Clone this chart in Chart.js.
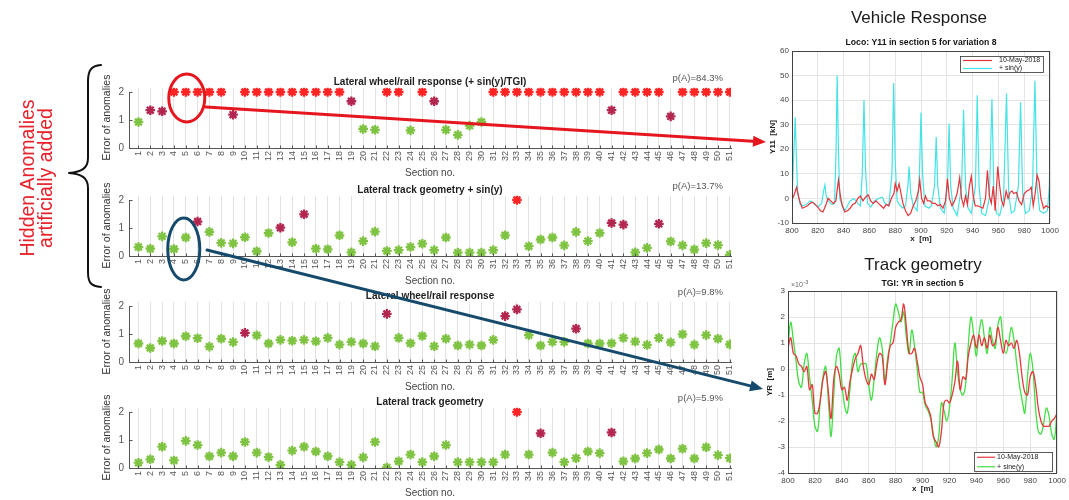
<!DOCTYPE html>
<html lang="en">
<head>
<meta charset="utf-8">
<title>Hidden anomaly detection per section</title>
<script src="https://cdn.jsdelivr.net/npm/chart.js@4.4.1/dist/chart.umd.min.js"></script>
<style>
  html, body { margin:0; padding:0; background:#fff; }
  body { position:relative; width:1069px; height:500px; overflow:hidden; font-family:'Liberation Sans', Arial, sans-serif; }
  canvas { position:absolute; }
  .heading { position:absolute; font-size:17px; line-height:20px; color:#1a1a1a; white-space:nowrap; transform:translateX(-50%); }
  #note { position:absolute; left:-49px; top:160px; width:170px; height:36px; font-size:19.5px; line-height:18px;
          color:#e8202a; text-align:center; white-space:nowrap; transform:rotate(-90deg); }
</style>
</head>
<body>
<canvas id="p1" width="650" height="125" style="left:95px;top:58px"></canvas>
<canvas id="p2" width="650" height="125" style="left:95px;top:166px"></canvas>
<canvas id="p3" width="650" height="125" style="left:95px;top:272px"></canvas>
<canvas id="p4" width="650" height="125" style="left:95px;top:378px"></canvas>
<canvas id="veh" width="309" height="220" style="left:760px;top:30px"></canvas>
<canvas id="trk" width="309" height="230" style="left:760px;top:270px"></canvas>
<canvas id="overlay" width="1069" height="500" style="left:0;top:0"></canvas>
<div class="heading" style="left:919px;top:8px">Vehicle Response</div>
<div class="heading" style="left:923px;top:255px">Track geometry</div>
<div id="note">Hidden Anomalies<br>artificially added</div>

<script>
const FONT = "'Liberation Sans', Arial, sans-serif";

// ---------- anomaly error per track section ----------
const sections = [1,2,3,4,5,6,7,8,9,10,11,12,13,14,15,16,17,18,19,20,21,22,23,24,25,26,
                  27,28,29,30,31,32,33,34,35,36,37,38,39,40,41,42,43,44,45,46,47,48,49,50,51];
const anomalyTicks = [0, 1, 2];

const errWheelRailSinTGI = [0.93,1.35,1.31,2,2,2,2,2,1.19,2, 2,2,2,2,2,2,2,2,1.67,0.68,
  0.65,2,2,0.63,2,1.67,0.65,0.47,0.80,0.93, 2,2,2,2,2,2,2,2,2,2, 1.35,2,2,2,2,1.13,2,2,2,2, 2];
const errTrackSin = [0.32,0.26,0.70,0.25,0.66,1.23,0.86,0.47,0.45,0.67, 0.17,0.82,1.01,0.49,1.49,0.26,0.24,0.74,0.13,0.53,
  0.87,0.18,0.21,0.32,0.44,0.21,0.66,0.12,0.12,0.12, 0.21,0.74,2.0,0.35,0.59,0.66,0.38,0.86,0.53,0.82,
  1.18,1.12,0.13,0.29,1.15,0.52,0.38,0.23,0.46,0.39, 0.04];
const errWheelRail = [0.66,0.50,0.75,0.66,0.92,0.85,0.55,0.83,0.71,1.04, 0.95,0.66,0.79,0.76,0.79,0.74,0.86,0.62,0.72,0.66,
  0.56,1.72,0.86,0.67,0.93,0.56,0.83,0.59,0.62,0.59, 0.79,1.64,1.88,0.96,0.59,0.72,0.72,1.19,0.66,0.66,
  0.67,0.86,0.73,0.61,0.86,0.70,0.99,0.62,0.96,0.83, 0.63];
const errTrack = [0.19,0.31,0.76,0.27,0.97,0.82,0.42,0.55,0.42,0.93, 0.55,0.39,0.11,0.62,0.76,0.59,0.42,0.21,0.11,0.38,
  0.93,0.02,0.24,0.48,0.21,0.42,0.82,0.21,0.21,0.21, 0.21,0.48,2.0,0.48,1.24,0.55,0.21,0.35,0.59,0.53,
  1.27,0.24,0.34,0.53,0.66,0.34,0.69,0.34,0.74,0.46, 0.35];

const panelTitles = ['Lateral wheel/rail response (+ sin(y)/TGI)', 'Lateral track geometry + sin(y)',
                     'Lateral wheel/rail response', 'Lateral track geometry'];
const panelProbabilities = ['p(A)=84.3%', 'p(A)=13.7%', 'p(A)=9.8%', 'p(A)=5.9%'];

// ---------- section 5: lateral force Y11 [kN] ----------
const y11RefX = [800,801,802,803.5,805,806.5,808,810,812,814,816,818,820,822,824,826,828,830,832,834,836,837.5,839,841,843,845,
  847,849,851,853,855,857,859,861,863,865,867,869,871,873,875,877,879,880,881.5,883,884.5,886,888,890,892,894,896,898,899,
  900.5,902,903.5,905,907,909,911,913,915,917,919,920.5,922,924,926,928,930,931.5,933,934.5,936,937.5,939,940.5,942,944,
  946,948,950,951.5,953,954.5,956,957.5,959.5,961,962.5,964,966,967.5,969,970.5,972,974,976,978,980,982,984,985.5,987,
  988.5,990,991.5,993,995,997,1000];
const y11RefY = [1,0.5,2,4.5,1,-2,-4,-3.5,-3,-2,-1.5,-2.5,-3.5,-5,-5.5,-3,0,-1,-2,-1,7.5,1,-3,-5.5,-5,-4,
  -2.5,-2,0,1,-1,0.5,1.5,-1,-2,-1,-2,-3,-4,-2.5,-3,0,2,6,3,6,2,-2,-5,-7,-6,-3,-1,3,7.5,
  0,-2,1,-1,-1,-2,-2,-3,-2.5,-4,-1,8,0,-3,-1,2,8.5,0,-3,1,-2.5,5,9,1,-3,-3,
  -3.5,-4,0,11.5,1,-2,5,-5,13,5,-1,-3,3,0,2.5,3,2,2.5,-1,-2.5,2,3,3.5,4.5,-3,
  2,9.5,7,0,-4,-3,-4];
const y11SinX = [800,801.5,802.5,803.5,804.5,806,808,811,814,817,820,823,824.5,825.5,826.5,828,831,833,834.2,835,836,837,
  839,841,843,845,848,851,853,854.5,855.8,857,858.5,861,864,867,870,872,875,877.5,878.8,880,881.5,884,886,888,889.8,
  890.8,892,894,897,898.8,900,901.2,903,906,908,910.5,911.8,913,915,918,920.5,921.8,923,925,928,931.5,933,934.5,
  936.5,939,942.2,943.6,945,947,950,953,955,956.5,958.5,961,964,966.3,968,970,972.5,975.5,977.2,978.8,981,984,
  986.5,988.3,990,992,995,998,999.5,1000];
const y11SinY = [0,20,33,15,2,-2,-3,-2.5,-1,-2,-3.5,-2,3,5.5,1,-1,-2.5,-2,20,50,20,0,
  -3,-5,-3,-1,0,-2,-3,10,40,12,-2,-3.5,-1,0,0.5,-2,-3,10,47,15,-1,-3,-4,-3,5,
  13,2,-3,-5,10,35,10,-3,-4,-3,5,25,5,-4,-6,5,30.5,5,-4,-7,5,36,5,
  -4,-6,5,42,5,-6,-7,0,40.5,2,-6,-7,0,42.7,2,-6,-5,5,39,2,-6,-5,
  5,48,5,-5,-6,-5,5,19];

// ---------- section 5: lateral alignment YR [m x 1e-3] ----------
const yrX = [800,802,804,806,808,810,812,814,816,818,820,822,824,826,828,830,832,834,836,838,840,842,844,846,848,850,
  852,854,856,858,860,862,864,866,868,870,872,874,876,878,880,882,884,886,888,890,892,894,896,898,900,902,904,906,908,
  910,912,914,916,918,920,922,924,926,928,930,932,934,936,938,940,942,944,946,948,950,952,954,956,958,960,962,964,966,
  968,970,972,974,976,978,980,982,984,986,988,990,992,994,996,998,1000];
const yrRef = [0.8,1.2,0.6,0.5,0.2,0.1,-0.1,0.1,-0.8,-0.6,-1.7,-1.7,-1.2,-0.4,-0.1,-0.9,-1.9,-0.4,0.1,-0.2,-0.8,-0.7,-1.2,-0.5,0.0,0.4,
  0.6,0.9,0.1,-0.4,-0.6,-0.2,-0.4,0.2,0.6,0.5,-0.6,0.2,0.9,1.0,1.6,1.8,1.9,2.5,1.6,0.6,0.6,0.8,0.3,-0.3,-0.6,-1.3,-1.5,-1.8,-2.6,
  -2.8,-3.0,-2.4,-1.3,-1.2,-1.3,-1.0,-0.5,0.3,-0.8,-0.3,-0.4,0.5,1.0,1.3,0.8,1.3,0.9,1.2,0.8,1.3,0.9,1.0,1.6,1.1,0.6,1.1,0.9,1.0,
  0.8,1.1,0.6,-0.3,-0.9,-1.0,-0.3,-0.1,-0.6,-1.5,-2.0,-2.2,-2.2,-2.2,-2.0,-1.9,-1.7];
const yrSine = [0.9,1.8,1.1,0.3,-0.5,-0.7,0.2,0.6,-0.3,-1.2,-2.2,-2.4,-1.2,-0.3,0.1,-1.2,-2.6,-1.0,0.5,0.8,-0.5,-1.4,-1.7,-0.8,0.3,0.6,
  -0.1,0.2,0.2,0.2,-0.6,-1.2,-0.4,0.6,1.2,0.8,-0.5,0.4,1.0,1.8,2.5,2.2,1.8,2.2,1.2,0.6,1.5,0.9,0.0,-0.9,-0.9,-1.4,-1.6,-1.9,-2.5,
  -3.0,-2.6,-1.3,-1.6,-2.0,-1.5,-0.4,1.0,-0.1,-0.8,-1.0,-0.6,0.9,2.0,1.3,0.5,1.4,1.9,1.2,0.6,1.6,1.1,0.8,1.7,2.0,1.0,0.6,1.0,1.6,
  1.1,0.2,-0.6,-1.2,-1.7,-0.3,0.6,0.0,-1.5,-2.4,-2.5,-2.1,-1.5,-1.8,-2.5,-2.7,-1.5];

// ---------- marker colour by anomaly level ----------
const ALARM_LEVEL = 1.99, WARN_LEVEL = 1.0;
const COLOR_ALARM = '#ff2424', COLOR_WARN = '#b3264f', COLOR_OK = '#7fc342';
const levelColor = v => v >= ALARM_LEVEL ? COLOR_ALARM : (v >= WARN_LEVEL ? COLOR_WARN : COLOR_OK);

// axis line 0..2, inward ticks and the panel texts
const stemDecor = {
  id: 'stemDecor',
  afterDraw(chart, args, o) {
    const { ctx, chartArea: a, scales: { x, y } } = chart;
    const y0 = Math.round(y.getPixelForValue(0)) + 0.5;
    const yTop = y.getPixelForValue(2);
    const xl = Math.round(a.left) + 0.5;
    ctx.save();
    ctx.strokeStyle = '#555'; ctx.lineWidth = 1;
    ctx.beginPath();
    ctx.moveTo(xl, y0); ctx.lineTo(xl, yTop);
    anomalyTicks.forEach(v => { const p = Math.round(y.getPixelForValue(v)) + 0.5; ctx.moveTo(xl, p); ctx.lineTo(xl + 3, p); });
    sections.forEach(s => { const p = Math.round(x.getPixelForValue(s)) + 0.5; ctx.moveTo(p, y0); ctx.lineTo(p, y0 - 3); });
    ctx.stroke();
    const cx = (a.left + a.right) / 2;
    ctx.textBaseline = 'middle'; ctx.textAlign = 'center';
    ctx.fillStyle = '#1e1e1e'; ctx.font = `bold 10px ${FONT}`;
    ctx.fillText(o.title, cx, y0 - 66);
    ctx.fillStyle = '#555'; ctx.font = `9.5px ${FONT}`; ctx.textAlign = 'right';
    ctx.fillText(o.prob, a.right - 8, y0 - 70);
    ctx.fillStyle = '#444'; ctx.font = `10px ${FONT}`; ctx.textAlign = 'center';
    ctx.fillText('Section no.', cx, y0 + 25);
    ctx.translate(12, y0 - 31); ctx.rotate(-Math.PI / 2);
    ctx.fillStyle = '#333'; ctx.font = `10.5px ${FONT}`;
    ctx.fillText('Error of anomalies', 0, 0);
    ctx.restore();
  }
};

function stemPanel(id, values, title, prob) {
  const colors = values.map(levelColor);
  return new Chart(document.getElementById(id), {
    type: 'scatter',
    data: { datasets: [{
      data: sections.map((s, i) => ({ x: s, y: values[i] })),
      pointStyle: 'star', pointRadius: 4.8, pointBorderWidth: 2.3,
      pointBorderColor: colors, pointBackgroundColor: colors
    }]},
    options: {
      responsive: false, animation: false, devicePixelRatio: 1, events: [],
      layout: { padding: { top: 29.8, right: 14, left: 0, bottom: 0 } },
      plugins: { legend: { display: false }, tooltip: { enabled: false }, stemDecor: { title, prob } },
      scales: {
        x: {
          type: 'linear', min: 0.2, max: 51.1,
          afterBuildTicks: s => { s.ticks = sections.map(v => ({ value: v })); },
          afterFit: s => { s.height = 35; },
          ticks: { autoSkip: false, minRotation: 90, maxRotation: 90, padding: 3, color: '#555',
                   font: { size: 9, family: FONT }, callback: v => String(v) },
          grid: { color: '#e2e2e2', drawTicks: false, lineWidth: 1 },
          border: { display: true, color: '#555', width: 1 }
        },
        y: {
          min: 0, max: 2.15,
          afterBuildTicks: s => { s.ticks = anomalyTicks.map(v => ({ value: v })); },
          afterFit: s => { s.width = 34; },
          ticks: { padding: 5, color: '#555', font: { size: 10, family: FONT } },
          grid: { display: false, drawTicks: false },
          border: { display: false }
        }
      }
    },
    plugins: [stemDecor]
  });
}

const p1 = stemPanel('p1', errWheelRailSinTGI, panelTitles[0], panelProbabilities[0]);
const p2 = stemPanel('p2', errTrackSin, panelTitles[1], panelProbabilities[1]);
stemPanel('p3', errWheelRail, panelTitles[2], panelProbabilities[2]);
stemPanel('p4', errTrack, panelTitles[3], panelProbabilities[3]);

// boxed axes, titles and an in-plot legend for the detail plots
const frameDecor = {
  id: 'frameDecor',
  afterDraw(chart, args, o) {
    const { ctx, chartArea: a } = chart;
    ctx.save();
    ctx.strokeStyle = '#444'; ctx.lineWidth = 1;
    ctx.strokeRect(Math.round(a.left) + 0.5, Math.round(a.top) + 0.5, Math.round(a.right - a.left) - 1, Math.round(a.bottom - a.top));
    const cx = (a.left + a.right) / 2;
    ctx.textAlign = 'center'; ctx.textBaseline = 'middle';
    ctx.fillStyle = '#151515'; ctx.font = `bold 8.7px ${FONT}`;
    ctx.fillText(o.title, cx, a.top - o.titleDy);
    ctx.fillStyle = '#222'; ctx.font = `bold 8px ${FONT}`;
    ctx.fillText(o.xTitle, cx, a.bottom + 16);
    ctx.save();
    ctx.translate(a.left - o.yTitleDx, (a.top + a.bottom) / 2); ctx.rotate(-Math.PI / 2);
    ctx.fillText(o.yTitle, 0, 0);
    ctx.restore();
    if (o.exponent) {
      ctx.fillStyle = '#666'; ctx.textAlign = 'left'; ctx.font = `7px ${FONT}`;
      ctx.fillText('\u00d710', a.left + 3, a.top - 6);
      const w = ctx.measureText('\u00d710').width;
      ctx.font = `5.5px ${FONT}`;
      ctx.fillText(o.exponent, a.left + 3 + w + 0.5, a.top - 9);
    }
    const L = o.legend;
    const bx = a.right - L.right - L.w;
    const by = L.top !== undefined ? a.top + L.top : a.bottom - L.bottom - L.h;
    ctx.fillStyle = '#fff'; ctx.fillRect(bx, by, L.w, L.h);
    ctx.strokeStyle = '#333'; ctx.lineWidth = 0.8; ctx.strokeRect(bx + 0.5, by + 0.5, L.w, L.h);
    const ds = chart.data.datasets;
    ds.forEach((d, i) => {
      const yy = by + L.h * (i + 0.5) / ds.length + 0.5;
      ctx.strokeStyle = d.borderColor; ctx.lineWidth = 1.2;
      ctx.beginPath(); ctx.moveTo(bx + 3, yy); ctx.lineTo(bx + L.lineLen, yy); ctx.stroke();
      ctx.fillStyle = '#222'; ctx.font = `7px ${FONT}`; ctx.textAlign = 'left';
      ctx.fillText(d.label, bx + L.textX, yy);
    });
    ctx.restore();
  }
};

function axisOpts(min, max, step, extent, isX) {
  return {
    type: 'linear', min, max,
    ticks: { stepSize: step, padding: 3, color: '#444', font: { size: 8, family: FONT },
             autoSkip: false, minRotation: 0, maxRotation: 0, callback: v => String(v) },
    grid: { color: '#e4e4e4', drawTicks: false },
    border: { display: false },
    afterFit: s => { if (isX) s.height = extent; else s.width = extent; }
  };
}

new Chart(document.getElementById('veh'), {
  type: 'line',
  data: { datasets: [
    { label: '10-May-2018', data: y11RefX.map((x, i) => ({ x, y: y11RefY[i] })), borderColor: '#e5343a', borderWidth: 1.2, pointRadius: 0, tension: 0 },
    { label: '+ sin(y)', data: y11SinX.map((x, i) => ({ x, y: y11SinY[i] })), borderColor: '#45e3e6', borderWidth: 1.2, pointRadius: 0, tension: 0 }
  ]},
  options: {
    responsive: false, animation: false, devicePixelRatio: 1, events: [],
    layout: { padding: { top: 21, right: 19, left: 0, bottom: 0 } },
    plugins: { legend: { display: false }, tooltip: { enabled: false },
      frameDecor: { title: 'Loco: Y11 in section 5 for variation 8', titleDy: 8, xTitle: 'x  [m]', yTitle: 'Y11  [kN]', yTitleDx: 19,
                    legend: { right: 7, top: 5, w: 83, h: 16, lineLen: 32, textX: 39 } } },
    scales: { x: axisOpts(800, 1000, 20, 27, true), y: axisOpts(-10, 60, 10, 32, false) }
  },
  plugins: [frameDecor]
});

new Chart(document.getElementById('trk'), {
  type: 'line',
  data: { datasets: [
    { label: '10-May-2018', data: yrX.map((x, i) => ({ x, y: yrRef[i] })), borderColor: '#e5383d', borderWidth: 1.3, pointRadius: 0, tension: 0.35 },
    { label: '+ sine(y)', data: yrX.map((x, i) => ({ x, y: yrSine[i] })), borderColor: '#44dd44', borderWidth: 1.3, pointRadius: 0, tension: 0.35 }
  ]},
  options: {
    responsive: false, animation: false, devicePixelRatio: 1, events: [],
    layout: { padding: { top: 21, right: 11, left: 0, bottom: 0 } },
    plugins: { legend: { display: false }, tooltip: { enabled: false },
      frameDecor: { title: 'TGI: YR in section 5', titleDy: 7, xTitle: 'x  [m]', yTitle: 'YR  [m]', yTitleDx: 18, exponent: '-3',
                    legend: { right: 5, bottom: 2, w: 78, h: 19, lineLen: 21, textX: 23 } } },
    scales: { x: axisOpts(800, 1000, 20, 27, true), y: axisOpts(-4, 3, 1, 28, false) }
  },
  plugins: [frameDecor]
});

// ---------- brace, highlight ellipses and arrows ----------
function arrow(ctx, x1, y1, x2, y2, color, width, head, halfW) {
  const ang = Math.atan2(y2 - y1, x2 - x1);
  const bx = x2 - head * Math.cos(ang), by = y2 - head * Math.sin(ang);
  ctx.strokeStyle = color; ctx.lineWidth = width;
  ctx.beginPath(); ctx.moveTo(x1, y1); ctx.lineTo(bx, by); ctx.stroke();
  ctx.fillStyle = color; ctx.beginPath();
  ctx.moveTo(x2, y2);
  ctx.lineTo(bx + halfW * Math.sin(ang), by - halfW * Math.cos(ang));
  ctx.lineTo(bx - halfW * Math.sin(ang), by + halfW * Math.cos(ang));
  ctx.closePath(); ctx.fill();
}

(function drawOverlay() {
  const ctx = document.getElementById('overlay').getContext('2d');
  ctx.lineCap = 'round'; ctx.lineJoin = 'round';
  ctx.strokeStyle = '#111'; ctx.lineWidth = 2;
  ctx.beginPath();
  ctx.moveTo(101, 65);
  ctx.bezierCurveTo(91, 66, 88, 70, 88, 82);
  ctx.lineTo(88, 158);
  ctx.bezierCurveTo(88, 168, 82, 172, 69, 173);
  ctx.bezierCurveTo(82, 174, 88, 178, 88, 188);
  ctx.lineTo(88, 272);
  ctx.bezierCurveTo(88, 283, 91, 286, 101, 287);
  ctx.stroke();

  const sec5a = p1.scales.x.getPixelForValue(5) + 95;
  const sec5b = p2.scales.x.getPixelForValue(5) + 95;
  ctx.lineWidth = 3;
  ctx.strokeStyle = '#e5161e';
  ctx.beginPath(); ctx.ellipse(sec5a + 1, 98, 18, 24, 0, 0, Math.PI * 2); ctx.stroke();
  arrow(ctx, 206, 107, 766, 142, '#e5161e', 3, 13, 5.5);

  ctx.strokeStyle = '#164a6c';
  ctx.beginPath(); ctx.ellipse(sec5b - 2, 249, 16, 31, 0, 0, Math.PI * 2); ctx.stroke();
  arrow(ctx, 207, 250, 763, 389, '#164a6c', 3, 13, 5.5);
})();
</script>
</body>
</html>
